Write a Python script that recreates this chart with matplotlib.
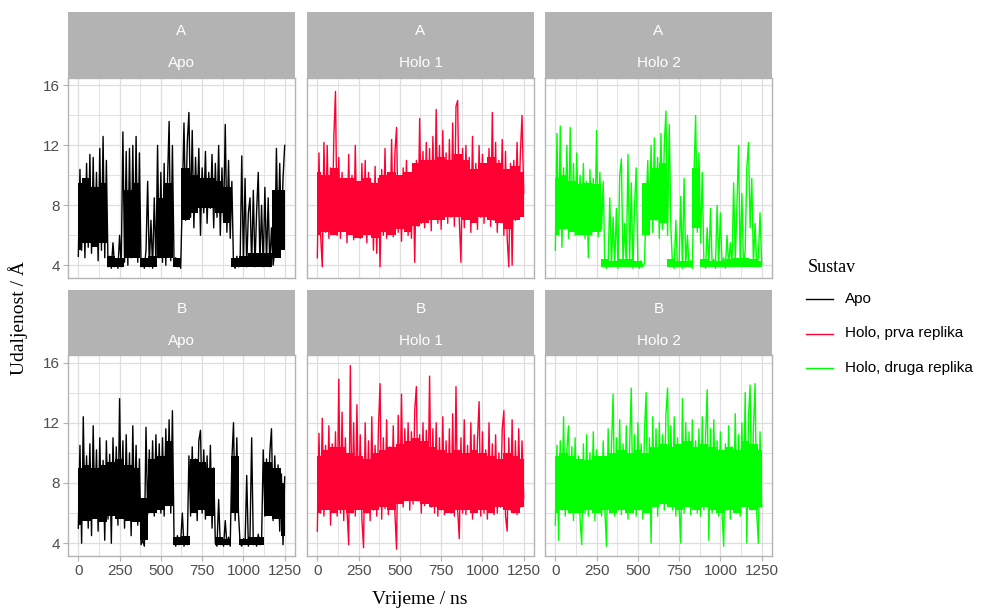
import matplotlib
matplotlib.use("Agg")
import matplotlib.pyplot as plt
from matplotlib.lines import Line2D
import numpy as np

# === Data (udaljenost in Å) ===
# individual frames, read every 10 ns
time_ns = np.arange(0, 1251, 10)
# dense core of the trace (lower / upper edge), read every 50 ns
core_t = np.arange(0, 1251, 50)

a_apo = [4.6, 10.4, 5.0, 9.5, 4.5, 10.8, 5.2, 11.4, 4.8, 11.2,
         5.5, 10.2, 4.3, 11.8, 5.0, 12.6, 4.5, 11.0, 3.9, 4.6,
         3.8, 5.5, 3.9, 4.3, 3.8, 6.0, 3.9, 12.9, 4.2, 11.6,
         4.0, 11.8, 4.5, 12.0, 5.0, 12.6, 4.2, 11.5, 3.9, 4.4,
         3.8, 5.0, 9.6, 3.9, 7.0, 3.8, 8.5, 4.0, 12.0, 4.5,
         10.2, 4.2, 10.8, 4.0, 9.5, 13.6, 4.3, 12.0, 4.0, 4.5,
         3.9, 4.2, 3.8, 8.5, 13.5, 7.0, 12.2, 14.2, 7.2, 13.0,
         6.5, 11.2, 7.8, 11.8, 6.0, 10.5, 7.5, 11.6, 6.8, 10.2,
         7.8, 11.4, 6.5, 10.8, 7.2, 12.0, 6.0, 10.5, 7.0, 13.4,
         6.2, 11.0, 5.8, 9.6, 4.0, 3.8, 4.6, 3.9, 4.2, 11.3,
         4.0, 9.8, 3.9, 7.5, 8.5, 4.0, 9.0, 3.9, 7.6, 10.2,
         4.1, 8.0, 3.9, 9.2, 4.2, 8.5, 3.9, 6.5, 4.0, 5.0,
         11.8, 5.5, 10.8, 6.0, 9.8, 12.0]
a_apo_lo = [5.0, 5.5, 5.2, 5.5, 3.9, 3.9, 4.5, 4.5, 3.9, 3.9, 4.5, 4.5, 3.9,
            7.0, 7.5, 7.8, 7.8, 7.5, 6.8, 3.9, 3.9, 3.9, 3.9, 3.9, 4.5, 5.0]
a_apo_hi = [9.5, 9.8, 9.2, 9.5, 4.6, 4.5, 9.0, 9.5, 4.5, 4.6, 8.5, 9.5, 4.5,
            10.5, 10.0, 9.8, 9.8, 9.6, 9.2, 4.5, 4.6, 4.8, 4.8, 4.8, 9.0, 9.0]

a_holo1 = [4.5, 11.5, 6.0, 3.9, 12.2, 6.2, 12.0, 5.8, 10.5, 6.5,
           12.5, 15.6, 6.0, 11.2, 5.8, 10.2, 6.4, 9.8, 5.5, 11.4,
           6.2, 10.0, 5.7, 12.0, 6.0, 9.6, 5.8, 10.8, 6.4, 11.0,
           5.5, 10.2, 6.2, 9.5, 5.0, 10.6, 4.8, 9.8, 3.9, 10.4,
           6.0, 11.8, 5.8, 10.0, 6.4, 12.4, 5.9, 11.5, 13.2, 6.2,
           9.8, 5.6, 10.5, 6.5, 11.0, 6.0, 9.6, 5.8, 10.2, 4.2,
           11.0, 6.6, 13.8, 6.8, 11.6, 6.5, 12.2, 7.0, 11.8, 6.3,
           12.6, 7.2, 14.4, 6.8, 12.0, 6.4, 13.0, 7.4, 11.5, 6.8,
           12.4, 7.2, 13.5, 6.6, 14.6, 15.0, 7.0, 4.2, 11.8, 6.5,
           12.0, 7.5, 11.2, 6.2, 12.6, 7.0, 10.8, 6.4, 12.0, 7.2,
           11.4, 6.8, 10.5, 7.6, 11.8, 6.6, 14.2, 7.0, 12.2, 6.2,
           11.0, 7.2, 12.4, 6.0, 11.6, 5.8, 3.9, 10.8, 4.0, 11.0,
           7.0, 12.2, 7.4, 11.5, 14.0, 8.8]
a_holo1_lo = [6.0, 6.2, 6.0, 6.2, 6.0, 5.8, 6.0, 5.8, 6.2, 6.0, 6.4, 6.2, 6.6,
              6.8, 7.0, 7.0, 7.2, 7.2, 7.0, 6.8, 7.2, 7.0, 6.8, 6.4, 7.0, 7.2]
a_holo1_hi = [10.2, 10.0, 10.5, 9.8, 9.8, 9.6, 9.8, 9.5, 10.0, 10.2, 10.0, 10.2, 10.8,
              11.0, 11.0, 11.2, 11.0, 11.4, 11.0, 10.4, 10.8, 11.2, 10.8, 10.4, 10.6, 10.2]

a_holo2 = [5.0, 12.8, 6.0, 13.3, 5.2, 10.5, 6.4, 12.0, 5.8, 13.2,
           6.5, 10.8, 6.0, 11.5, 6.2, 10.0, 6.6, 10.8, 5.8, 9.6,
           4.5, 10.4, 6.0, 9.8, 6.3, 13.0, 5.9, 10.2, 6.4, 9.6,
           4.0, 3.8, 4.2, 8.5, 3.9, 7.2, 4.0, 7.8, 3.8, 10.0,
           11.1, 4.0, 6.8, 3.9, 11.4, 4.2, 9.5, 3.8, 8.0, 10.5,
           4.0, 3.8, 4.3, 3.9, 4.1, 8.0, 11.0, 6.5, 12.0, 6.2,
           12.5, 7.0, 11.2, 5.8, 12.8, 6.4, 12.0, 14.3, 6.0, 13.4,
           6.5, 4.0, 3.8, 7.0, 3.9, 4.2, 8.6, 3.8, 9.8, 4.0,
           6.0, 3.9, 4.3, 3.8, 10.0, 14.0, 6.2, 11.5, 5.5, 10.2,
           4.2, 3.8, 6.5, 3.9, 7.8, 4.0, 4.4, 3.8, 8.0, 4.1,
           7.5, 3.9, 4.5, 3.8, 6.0, 4.0, 5.5, 3.9, 9.5, 4.2,
           8.0, 12.0, 4.0, 8.8, 3.9, 5.0, 10.5, 12.2, 6.5, 9.8,
           4.0, 6.8, 3.9, 4.5, 7.5, 4.0]
a_holo2_lo = [6.0, 6.4, 6.2, 6.0, 6.0, 6.2, 3.9, 3.9, 3.9, 3.9, 3.9, 6.0, 7.0,
              6.8, 3.9, 3.9, 3.9, 6.5, 3.9, 3.9, 3.9, 3.9, 3.9, 3.9, 3.9, 3.9]
a_holo2_hi = [9.8, 10.0, 9.6, 9.4, 9.5, 9.4, 4.4, 4.3, 4.4, 4.4, 4.3, 9.5, 10.5,
              10.8, 4.4, 4.3, 4.3, 10.5, 4.4, 4.3, 4.3, 4.4, 4.5, 4.5, 4.4, 4.3]

b_apo = [5.0, 10.5, 4.0, 12.4, 5.8, 9.8, 5.0, 10.6, 4.5, 11.8,
         6.0, 10.2, 4.8, 11.0, 5.5, 9.5, 4.2, 10.8, 5.6, 9.9,
         4.0, 11.0, 6.0, 10.4, 5.2, 13.6, 6.2, 10.8, 5.0, 11.2,
         5.8, 10.0, 4.5, 11.8, 6.0, 10.5, 5.2, 9.6, 3.9, 4.2,
         3.8, 11.7, 5.9, 10.2, 6.2, 10.8, 5.8, 11.2, 6.4, 10.6,
         6.0, 11.0, 5.8, 11.6, 6.5, 12.2, 6.0, 12.8, 4.2, 3.8,
         4.5, 3.9, 4.1, 6.0, 3.8, 4.3, 3.9, 9.8, 5.8, 10.4,
         6.2, 9.6, 5.5, 10.8, 11.5, 6.0, 10.2, 5.6, 9.8, 6.2,
         10.5, 5.0, 9.0, 4.0, 3.8, 6.9, 3.9, 4.2, 3.8, 5.5,
         3.9, 4.4, 3.8, 9.5, 12.0, 5.5, 11.0, 6.0, 4.0, 3.8,
         4.3, 3.9, 8.5, 3.8, 4.5, 11.0, 3.9, 4.2, 3.8, 4.6,
         3.9, 4.1, 10.2, 5.8, 9.6, 6.4, 10.0, 11.6, 5.5, 9.8,
         6.0, 9.2, 4.8, 8.6, 3.9, 8.4]
b_apo_lo = [5.2, 5.5, 5.6, 5.4, 5.8, 5.6, 5.5, 5.4, 4.2, 6.0, 6.2, 6.5, 3.9,
            3.9, 6.0, 6.2, 5.8, 3.9, 3.9, 6.0, 3.9, 3.9, 3.9, 5.8, 5.6, 4.5]
b_apo_hi = [9.0, 9.2, 9.0, 9.2, 9.4, 9.6, 9.2, 9.0, 7.0, 9.6, 9.8, 10.8, 4.4,
            4.5, 9.6, 9.4, 9.0, 4.4, 4.3, 9.8, 4.3, 4.4, 4.4, 9.4, 9.0, 8.0]

b_holo1 = [4.8, 11.3, 6.0, 12.3, 5.8, 10.5, 6.4, 11.8, 5.2, 10.6,
           6.2, 11.4, 5.8, 14.9, 6.0, 12.7, 5.5, 11.0, 6.2, 3.9,
           15.8, 6.0, 12.0, 5.8, 13.2, 6.4, 11.2, 5.6, 3.7, 12.0,
           6.0, 10.8, 5.5, 12.4, 6.2, 10.5, 5.8, 11.6, 14.6, 5.6,
           11.0, 6.3, 12.2, 5.9, 10.4, 6.5, 11.8, 6.0, 3.6, 12.5,
           6.8, 13.9, 6.4, 11.6, 7.0, 12.0, 6.2, 11.4, 6.6, 12.8,
           14.4, 6.8, 11.2, 6.0, 12.0, 6.5, 11.5, 7.0, 15.1, 6.4,
           11.6, 6.0, 12.0, 5.8, 11.0, 6.2, 12.4, 5.9, 10.8, 6.4,
           11.6, 6.0, 12.6, 5.8, 14.4, 6.2, 4.3, 11.0, 6.0, 12.2,
           5.9, 10.5, 6.3, 12.0, 5.6, 11.2, 6.4, 10.8, 13.4, 5.8,
           11.4, 6.0, 10.2, 5.6, 12.0, 6.2, 10.6, 5.9, 11.2, 6.0,
           10.0, 6.4, 11.6, 12.8, 5.8, 4.8, 11.0, 6.2, 12.2, 6.0,
           10.8, 5.9, 11.6, 6.4, 10.8, 7.0]
b_holo1_lo = [6.0, 6.2, 6.0, 6.2, 6.0, 6.2, 6.0, 6.2, 6.4, 6.2, 6.6, 6.8, 6.8,
              6.6, 6.4, 6.2, 6.0, 6.2, 6.2, 6.0, 6.2, 6.0, 6.4, 6.2, 6.0, 6.4]
b_holo1_hi = [9.8, 10.2, 10.4, 10.4, 10.0, 9.8, 9.6, 10.0, 10.2, 10.4, 10.6, 10.8, 11.0,
              10.8, 10.4, 10.2, 10.0, 10.2, 10.0, 10.2, 10.0, 9.8, 9.6, 10.0, 9.8, 9.6]

b_holo2 = [5.2, 10.5, 4.2, 10.8, 6.2, 12.4, 5.8, 10.2, 11.8, 6.0,
           10.4, 5.5, 11.0, 6.2, 9.8, 5.6, 3.9, 10.6, 6.0, 11.2,
           5.8, 10.0, 6.4, 11.4, 5.5, 10.2, 6.0, 9.6, 5.8, 10.8,
           6.2, 3.8, 11.6, 6.0, 10.4, 13.9, 5.8, 11.0, 6.2, 12.2,
           5.9, 10.6, 6.4, 11.8, 5.6, 10.4, 14.3, 6.0, 11.2, 5.8,
           12.0, 6.2, 10.6, 5.6, 11.4, 14.0, 6.0, 11.0, 4.0, 12.4,
           6.4, 11.6, 5.8, 12.0, 6.6, 11.2, 6.2, 12.6, 14.3, 6.8,
           11.8, 6.2, 12.4, 5.8, 11.0, 6.4, 4.0, 13.6, 6.0, 12.0,
           6.6, 11.4, 5.9, 12.2, 6.4, 10.8, 6.0, 11.6, 5.8, 12.4,
           6.2, 11.0, 14.2, 4.2, 11.6, 6.0, 12.2, 6.4, 10.8, 5.8,
           11.4, 6.0, 3.8, 10.6, 6.2, 11.8, 5.6, 10.4, 6.4, 12.6,
           6.0, 11.2, 5.8, 12.0, 6.4, 14.0, 4.0, 12.4, 14.5, 6.2,
           11.6, 14.6, 6.0, 4.0, 11.4, 6.4]
b_holo2_lo = [6.0, 6.2, 6.0, 6.0, 6.2, 6.0, 6.2, 6.0, 6.2, 6.0, 6.2, 6.0, 6.4,
              6.6, 6.4, 6.2, 6.4, 6.2, 6.4, 6.2, 6.0, 6.2, 6.0, 6.4, 6.2, 6.4]
b_holo2_hi = [9.8, 10.0, 9.8, 9.6, 9.5, 9.8, 9.8, 10.0, 10.2, 10.0, 10.2, 10.0, 10.4,
              10.6, 10.4, 10.6, 10.8, 10.4, 10.6, 10.4, 10.2, 10.4, 10.2, 10.8, 10.6, 10.2]

chains = ["A", "B"]
systems = ["Apo", "Holo 1", "Holo 2"]
series = {("A", "Apo"): (a_apo, a_apo_lo, a_apo_hi),
          ("A", "Holo 1"): (a_holo1, a_holo1_lo, a_holo1_hi),
          ("A", "Holo 2"): (a_holo2, a_holo2_lo, a_holo2_hi),
          ("B", "Apo"): (b_apo, b_apo_lo, b_apo_hi),
          ("B", "Holo 1"): (b_holo1, b_holo1_lo, b_holo1_hi),
          ("B", "Holo 2"): (b_holo2, b_holo2_lo, b_holo2_hi)}
legend_labels = ["Apo", "Holo, prva replika", "Holo, druga replika"]
colors = ["#000000", "#FF0033", "#00FF00"]

x_ticks = [0, 250, 500, 750, 1000, 1250]
y_ticks = [4, 8, 12, 16]

# === Figure ===
W, H = 987, 611
fig = plt.figure(figsize=(W / 100, H / 100), dpi=100)

grid_col = "#DEDEDE"
border_col = "#B3B3B3"
tick_col = "#4D4D4D"
sans = ["Liberation Sans", "DejaVu Sans"]
serif = ["Liberation Serif", "DejaVu Serif"]

col_left = [68, 307, 545]
col_w = 227
row_panel = [(78, 278), (355, 556)]
row_strip = [(12, 78), (290, 355)]

def fx(px):
    return px / W

def fy(py):
    return 1 - py / H

for r, chain in enumerate(chains):
    for c, system in enumerate(systems):
        vals, lo, hi = series[(chain, system)]
        top, bot = row_panel[r]
        ax = fig.add_axes([fx(col_left[c]), fy(bot), fx(col_w), (bot - top) / H])
        ax.fill_between(core_t, lo, hi, step="mid", color=colors[c], lw=0)
        ax.plot(time_ns, vals, color=colors[c], lw=1.0)
        ax.set_xlim(-62.5, 1312.5)
        ax.set_ylim(3.15, 16.5)
        ax.set_xticks(x_ticks)
        ax.set_yticks(y_ticks)
        ax.set_xticks([125, 375, 625, 875, 1125], minor=True)
        ax.set_yticks([6, 10, 14], minor=True)
        ax.grid(True, which="major", color=grid_col, lw=0.9)
        ax.grid(True, which="minor", color=grid_col, lw=0.6)
        ax.set_axisbelow(True)
        for s in ax.spines.values():
            s.set_color(border_col)
            s.set_linewidth(1.0)
        ax.tick_params(which="minor", length=0)
        ax.tick_params(which="major", color=border_col, length=3.5, width=0.8,
                       labelcolor=tick_col, labelsize=11, pad=2)
        if c != 0:
            ax.tick_params(axis="y", length=0, labelleft=False)
        if r != 1:
            ax.tick_params(axis="x", length=0, labelbottom=False)
        for lab in ax.get_xticklabels() + ax.get_yticklabels():
            lab.set_family(sans)

        # strip with two labels
        st, sb = row_strip[r]
        sax = fig.add_axes([fx(col_left[c]), fy(sb), fx(col_w), (sb - st) / H])
        sax.set_facecolor("#B3B3B3")
        sax.set_xticks([])
        sax.set_yticks([])
        for s in sax.spines.values():
            s.set_visible(False)
        sax.text(0.5, 0.71, chain, color="white", ha="center", va="center",
                 fontsize=11, family=sans, transform=sax.transAxes)
        sax.text(0.5, 0.22, system, color="white", ha="center", va="center",
                 fontsize=11, family=sans, transform=sax.transAxes)

# axis titles
fig.text(fx(420), fy(600), "Vrijeme / ns", ha="center", va="center",
         fontsize=14, family=serif)
fig.text(fx(18), fy(318), "Udaljenost / Å", ha="center", va="center",
         rotation=90, fontsize=14, family=serif)

# legend
fig.text(fx(808), fy(268), "Sustav", ha="left", va="center", fontsize=13, family=serif)
for i, (lab, col) in enumerate(zip(legend_labels, colors)):
    yy = fy(299 + i * 34.5)
    fig.add_artist(Line2D([fx(806), fx(833)], [yy, yy], color=col, lw=1.0,
                          transform=fig.transFigure))
    fig.text(fx(845), yy, lab, ha="left", va="center", fontsize=11, family=sans)

fig.savefig("out.png", dpi=100)
